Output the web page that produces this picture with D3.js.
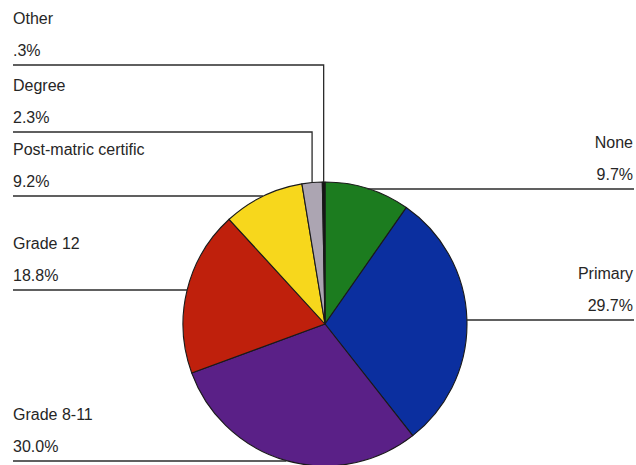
<!DOCTYPE html>
<html>
<head>
<meta charset="utf-8">
<script src="https://cdn.jsdelivr.net/npm/d3@7/dist/d3.min.js"></script>
<style>
  html, body { margin: 0; padding: 0; background: #fff; }
  svg { display: block; }
  text { font-family: "Liberation Sans", Arial, Helvetica, sans-serif; font-size: 16px; fill: #262626; }
</style>
</head>
<body>
<svg id="chart" width="636" height="465"></svg>
<script>
// Highest education level, share of population (%), clockwise from 12 o'clock
const categories = ["None", "Primary", "Grade 8-11", "Grade 12", "Post-matric certific", "Degree", "Other"];
const shares = [9.7, 29.7, 30.0, 18.8, 9.2, 2.3, 0.3];
const shareLabels = ["9.7%", "29.7%", "30.0%", "18.8%", "9.2%", "2.3%", ".3%"];
const colors = ["#1c7c1f", "#0b2f9f", "#5a2087", "#bf200c", "#f7d71c", "#aca5b2", "#141414"];

const W = 636, H = 465;
const cx = 325, cy = 324, r = 142;
const leftX = 13, rightX = 634;
// Small slices near the top are labelled via elbow leaders in a stacked block
const elbowY = { "Other": 65, "Degree": 132 };

const svg = d3.select("#chart");
const g = svg.append("g").attr("transform", `translate(${cx},${cy})`);

const data = categories.map((c, i) => ({ cat: c, value: shares[i], label: shareLabels[i], color: colors[i] }));
const pie = d3.pie().value(d => d.value).sort(null);
const arcs = pie(data);
const arc = d3.arc().innerRadius(0).outerRadius(r);

// Leader lines and labels
const lines = svg.append("g").attr("fill", "none").attr("stroke", "#2b2b2b").attr("stroke-width", 1.3);
const labels = svg.append("g");

arcs.forEach(a => {
  const mid = (a.startAngle + a.endAngle) / 2;
  const px = cx + r * Math.sin(mid);
  const py = cy - r * Math.cos(mid);
  const right = px > cx + 1;
  let ly;
  if (elbowY[a.data.cat] !== undefined) {
    ly = elbowY[a.data.cat];
    lines.append("path").attr("d", `M${leftX},${ly}H${px}V${py}`);
  } else {
    ly = Math.round(py);
    lines.append("path").attr("d", right ? `M${px},${ly}H${rightX}` : `M${leftX},${ly}H${px}`);
  }
  const tx = right ? rightX - 1 : leftX;
  const anchor = right ? "end" : "start";
  labels.append("text").attr("x", tx).attr("y", ly - 41).attr("text-anchor", anchor).text(a.data.cat);
  labels.append("text").attr("x", tx).attr("y", ly - 9).attr("text-anchor", anchor).text(a.data.label);
});

// Pie slices
g.selectAll("path.slice")
  .data(arcs)
  .join("path")
  .attr("class", "slice")
  .attr("d", arc)
  .attr("fill", d => d.data.color)
  .attr("stroke", "#1a1a1a")
  .attr("stroke-width", 1.1)
  .attr("stroke-linejoin", "round");
</script>
</body>
</html>
